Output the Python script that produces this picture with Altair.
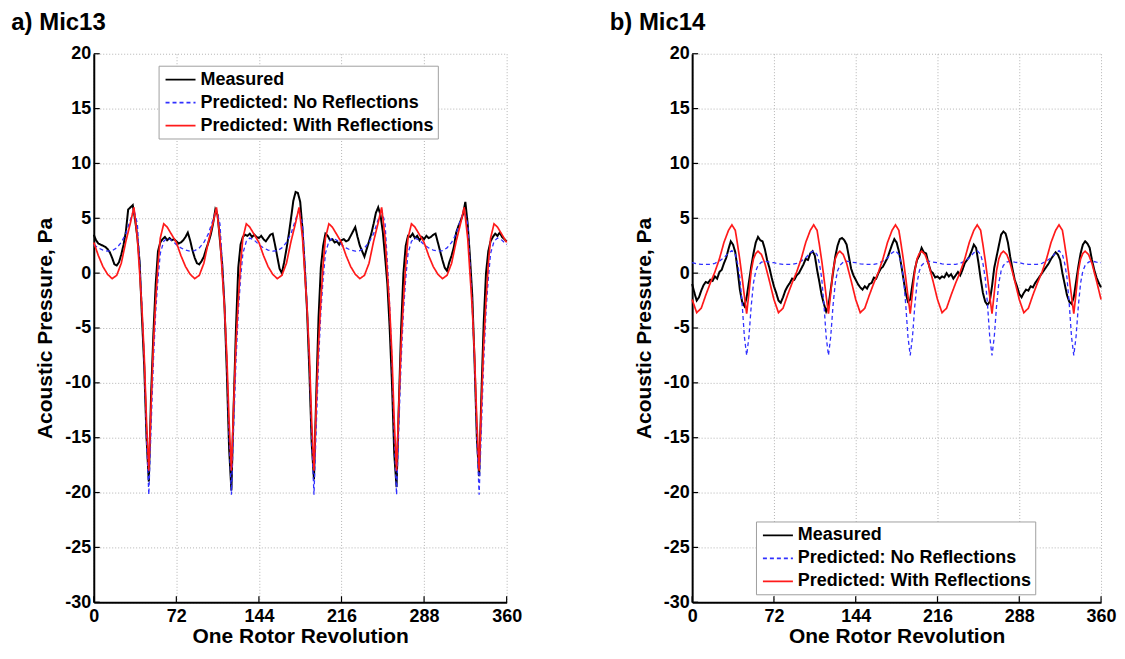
import altair as alt
import pandas as pd

SERIES = ["Measured", "Predicted: No Reflections", "Predicted: With Reflections"]
X_TICKS = [0, 72, 144, 216, 288, 360]
Y_TICKS = [-30, -25, -20, -15, -10, -5, 0, 5, 10, 15, 20]

# sample angles (degrees) of the measured traces
meas_deg = list(range(0, 361, 2))

# sample angles (degrees) of the predicted traces
pred_deg = [
    0, 4, 8, 12, 16, 20, 24, 28, 32, 35, 38, 40, 42, 44, 46, 48, 50, 52, 54, 56, 58, 61, 64, 68,
    72, 76, 80, 84, 88, 92, 96, 100, 104, 107, 110, 112, 114, 116, 118, 120, 122, 124, 126, 128, 130, 133, 136, 140,
    144, 148, 152, 156, 160, 164, 168, 172, 176, 179, 182, 184, 186, 188, 190, 192, 194, 196, 198, 200, 202, 205, 208, 212,
    216, 220, 224, 228, 232, 236, 240, 244, 248, 251, 254, 256, 258, 260, 262, 264, 266, 268, 270, 272, 274, 277, 280, 284,
    288, 292, 296, 300, 304, 308, 312, 316, 320, 323, 326, 328, 330, 332, 334, 336, 338, 340, 342, 344, 346, 349, 352, 356,
    360,
]

# ---------------- a) Mic13 ----------------
mic13_measured = [
    3.5, 3.0, 2.7, 2.6, 2.5, 2.4, 2.2, 1.9, 1.4, 0.8, 0.7, 1.0, 1.7, 2.6, 3.8, 5.8, 6.0, 6.2, 4.9, 3.3,
    1.0, -4.0, -8.5, -15.0, -19.0, -11.0, -5.5, -1.0, 2.0, 2.8, 3.1, 3.3, 3.0, 3.2, 3.0, 3.1,
    2.9, 2.7, 2.8, 3.0, 3.3, 3.7, 3.0, 2.1, 1.4, 0.9, 0.8, 1.1, 1.5, 2.2, 2.8, 3.5, 4.5, 5.8, 5.3, 3.0,
    0.8, -3.0, -9.0, -16.0, -19.8, -12.0, -5.0, 0.5, 2.6, 3.3, 3.5, 3.4, 3.6, 3.3, 3.5, 3.3,
    3.2, 3.4, 3.1, 2.9, 3.2, 3.5, 3.6, 2.6, 1.5, 0.4, 0.0, 1.0, 2.2, 3.5, 5.0, 6.6, 7.4, 7.3, 6.5, 4.0,
    0.5, -3.5, -9.0, -15.5, -18.8, -11.0, -4.0, 0.5, 2.5, 3.6, 3.4, 3.0, 3.1, 2.8, 2.9, 2.6,
    3.0, 3.1, 2.9, 3.0, 3.4, 3.8, 4.2, 3.3, 2.5, 2.0, 1.5, 2.2, 2.9, 3.6, 4.5, 5.5, 6.0, 5.3, 3.8, 1.5,
    -1.0, -5.0, -10.0, -16.5, -19.5, -12.0, -5.0, 0.0, 2.5, 3.4, 3.3, 3.6, 3.2, 3.4, 3.0, 3.3,
    3.1, 3.4, 3.2, 3.3, 3.5, 3.6, 2.8, 2.0, 1.2, 0.5, 0.2, 1.0, 1.6, 2.4, 3.7, 4.3, 4.8, 5.4, 6.5, 4.5,
    1.5, -2.0, -8.0, -15.0, -18.5, -11.0, -4.5, 0.0, 2.0, 2.9, 3.3, 3.6, 3.4, 3.7, 3.3, 3.1,
    2.9,
]
mic13_no_refl = [
    2.6, 2.3, 2.1, 2.0, 2.05, 2.3, 2.8, 3.6, 4.9, 5.8, 4.5, 1.0, -3.0, -8.0, -15.0, -20.2, -14.0, -8.0, -3.5, -0.5, 1.8, 2.9, 3.2, 3.0,
    2.6, 2.3, 2.1, 2.0, 2.05, 2.3, 2.8, 3.6, 4.9, 5.8, 4.5, 1.0, -3.0, -8.0, -15.0, -20.2, -14.0, -8.0, -3.5, -0.5, 1.8, 2.9, 3.2, 3.0,
    2.6, 2.3, 2.1, 2.0, 2.05, 2.3, 2.8, 3.6, 4.9, 5.8, 4.5, 1.0, -3.0, -8.0, -15.0, -20.2, -14.0, -8.0, -3.5, -0.5, 1.8, 2.9, 3.2, 3.0,
    2.6, 2.3, 2.1, 2.0, 2.05, 2.3, 2.8, 3.6, 4.9, 5.8, 4.5, 1.0, -3.0, -8.0, -15.0, -20.2, -14.0, -8.0, -3.5, -0.5, 1.8, 2.9, 3.2, 3.0,
    2.6, 2.3, 2.1, 2.0, 2.05, 2.3, 2.8, 3.6, 4.9, 5.8, 4.5, 1.0, -3.0, -8.0, -15.0, -20.2, -14.0, -8.0, -3.5, -0.5, 1.8, 2.9, 3.2, 3.0,
    2.6,
]
mic13_with_refl = [
    2.8, 1.6, 0.6, -0.1, -0.5, -0.2, 0.9, 2.9, 4.6, 6.0, 3.2, 0.0, -3.2, -7.5, -13.5, -18.0, -12.0, -6.5, -2.5, 0.8, 3.2, 4.5, 4.2, 3.5,
    2.8, 1.6, 0.6, -0.1, -0.5, -0.2, 0.9, 2.9, 4.6, 6.0, 3.2, 0.0, -3.2, -7.5, -13.5, -18.0, -12.0, -6.5, -2.5, 0.8, 3.2, 4.5, 4.2, 3.5,
    2.8, 1.6, 0.6, -0.1, -0.5, -0.2, 0.9, 2.9, 4.6, 6.0, 3.2, 0.0, -3.2, -7.5, -13.5, -18.0, -12.0, -6.5, -2.5, 0.8, 3.2, 4.5, 4.2, 3.5,
    2.8, 1.6, 0.6, -0.1, -0.5, -0.2, 0.9, 2.9, 4.6, 6.0, 3.2, 0.0, -3.2, -7.5, -13.5, -18.0, -12.0, -6.5, -2.5, 0.8, 3.2, 4.5, 4.2, 3.5,
    2.8, 1.6, 0.6, -0.1, -0.5, -0.2, 0.9, 2.9, 4.6, 6.0, 3.2, 0.0, -3.2, -7.5, -13.5, -18.0, -12.0, -6.5, -2.5, 0.8, 3.2, 4.5, 4.2, 3.5,
    2.8,
]

# ---------------- b) Mic14 ----------------
mic14_measured = [
    -1.0, -1.8, -2.5, -2.2, -1.6, -1.1, -0.8, -0.9, -0.6, -0.7, -0.3, -0.5, 0.1, 0.3, 0.9, 1.4, 2.2, 2.9, 2.6, 1.9,
    0.3, -1.5, -2.6, -3.0, -2.2, -0.8, 0.6, 1.8, 2.8, 3.3, 3.0, 2.9, 2.2, 1.2, 0.5, -0.4,
    -1.2, -1.8, -2.5, -2.7, -2.2, -1.6, -1.2, -0.9, -0.5, -0.6, -0.2, 0.0, 0.4, 0.8, 1.3, 1.2, 1.8, 2.0, 1.6, 0.3,
    -0.8, -2.0, -2.8, -3.5, -3.0, -1.5, 0.0, 1.5, 2.5, 3.1, 3.2, 3.0, 2.6, 1.5, 0.4, -0.2,
    -0.6, -1.0, -1.3, -1.5, -1.2, -1.4, -1.0, -0.9, -0.4, -0.5, 0.0, 0.4, 0.6, 1.0, 1.4, 2.0, 2.6, 3.1, 2.8, 2.0,
    0.8, -0.5, -1.8, -2.6, -2.4, -1.0, 0.3, 1.2, 1.6, 2.3, 1.9, 1.8, 0.9, 0.2, 0.0, -0.4,
    -0.3, -0.5, -0.3, -0.4, 0.0, -0.3, -0.1, -0.5, -0.2, 0.1, -0.2, 0.3, 0.9, 1.2, 1.5, 2.0, 2.6, 2.3, 1.0, -0.5,
    -1.8, -2.6, -2.9, -2.6, -1.2, 0.5, 1.5, 2.5, 3.5, 3.8, 3.6, 2.8, 1.5, 0.4, -0.6, -1.2,
    -1.9, -2.2, -1.8, -1.5, -1.6, -1.2, -1.3, -0.9, -0.6, -0.3, 0.0, 0.3, 0.6, 0.9, 1.3, 1.6, 1.9, 1.7, 1.2, 0.0,
    -1.0, -2.0, -2.6, -2.8, -2.2, -0.8, 0.6, 1.8, 2.6, 2.9, 2.7, 2.3, 1.2, 0.3, -0.4, -0.9,
    -1.3,
]
mic14_no_refl = [
    0.95, 0.85, 0.8, 0.8, 0.8, 0.9, 1.1, 1.4, 1.85, 2.05, 1.7, 0.9, -0.4, -2.8, -5.8, -7.5, -5.8, -3.0, -0.9, 0.2, 0.7, 1.0, 1.1, 1.0,
    0.95, 0.85, 0.8, 0.8, 0.8, 0.9, 1.1, 1.4, 1.85, 2.05, 1.7, 0.9, -0.4, -2.8, -5.8, -7.5, -5.8, -3.0, -0.9, 0.2, 0.7, 1.0, 1.1, 1.0,
    0.95, 0.85, 0.8, 0.8, 0.8, 0.9, 1.1, 1.4, 1.85, 2.05, 1.7, 0.9, -0.4, -2.8, -5.8, -7.5, -5.8, -3.0, -0.9, 0.2, 0.7, 1.0, 1.1, 1.0,
    0.95, 0.85, 0.8, 0.8, 0.8, 0.9, 1.1, 1.4, 1.85, 2.05, 1.7, 0.9, -0.4, -2.8, -5.8, -7.5, -5.8, -3.0, -0.9, 0.2, 0.7, 1.0, 1.1, 1.0,
    0.95, 0.85, 0.8, 0.8, 0.8, 0.9, 1.1, 1.4, 1.85, 2.05, 1.7, 0.9, -0.4, -2.8, -5.8, -7.5, -5.8, -3.0, -0.9, 0.2, 0.7, 1.0, 1.1, 1.0,
    0.95,
]
mic14_with_refl = [
    -2.4, -3.6, -3.2, -2.0, -0.9, 0.1, 1.3, 2.8, 3.9, 4.4, 3.9, 2.6, 1.2, -0.4, -2.1, -3.7, -1.8, 0.2, 1.3, 1.8, 2.0, 1.7, 0.9, -0.7,
    -2.4, -3.6, -3.2, -2.0, -0.9, 0.1, 1.3, 2.8, 3.9, 4.4, 3.9, 2.6, 1.2, -0.4, -2.1, -3.7, -1.8, 0.2, 1.3, 1.8, 2.0, 1.7, 0.9, -0.7,
    -2.4, -3.6, -3.2, -2.0, -0.9, 0.1, 1.3, 2.8, 3.9, 4.4, 3.9, 2.6, 1.2, -0.4, -2.1, -3.7, -1.8, 0.2, 1.3, 1.8, 2.0, 1.7, 0.9, -0.7,
    -2.4, -3.6, -3.2, -2.0, -0.9, 0.1, 1.3, 2.8, 3.9, 4.4, 3.9, 2.6, 1.2, -0.4, -2.1, -3.7, -1.8, 0.2, 1.3, 1.8, 2.0, 1.7, 0.9, -0.7,
    -2.4, -3.6, -3.2, -2.0, -0.9, 0.1, 1.3, 2.8, 3.9, 4.4, 3.9, 2.6, 1.2, -0.4, -2.1, -3.7, -1.8, 0.2, 1.3, 1.8, 2.0, 1.7, 0.9, -0.7,
    -2.4,
]

FONT = "Liberation Sans"
PLOT_H = 550


def panel(title, measured, no_refl, with_refl, width, leg_x, leg_y):
    df_m = pd.DataFrame({"deg": meas_deg, "p": measured, "series": SERIES[0]})
    df_b = pd.DataFrame({"deg": pred_deg, "p": no_refl, "series": SERIES[1]})
    df_r = pd.DataFrame({"deg": pred_deg, "p": with_refl, "series": SERIES[2]})
    df_xt = pd.DataFrame({"deg": X_TICKS})
    df_yt = pd.DataFrame({"p": Y_TICKS})
    df_t = pd.DataFrame({"t": [title]})

    x_enc = alt.X(
        "deg:Q",
        scale=alt.Scale(domain=[0, 360], nice=False, zero=False),
        axis=alt.Axis(values=X_TICKS, title="One Rotor Revolution", labelPadding=5,
                      titlePadding=0, labelFlush=False, labelExpr="'' + datum.value"),
    )
    y_enc = alt.Y(
        "p:Q",
        scale=alt.Scale(domain=[-30, 20], nice=False, zero=False),
        axis=alt.Axis(values=Y_TICKS, title="Acoustic Pressure, Pa", labelPadding=3,
                      titlePadding=9, labelExpr="'' + datum.value"),
    )
    leg = alt.Legend(
        title=None, orient="none", legendX=leg_x, legendY=leg_y,
        symbolType="M-1.67,0L1.67,0", symbolSize=324, symbolStrokeWidth=1.7,
        symbolOffset=8, labelOffset=10,
        labelFont=FONT, labelFontSize=18, labelFontWeight="bold", labelColor="#000",
        strokeColor="#a0a0a0", fillColor="#ffffff", padding=4, rowPadding=4,
        labelLimit=400,
    )
    color = alt.Color("series:N", scale=alt.Scale(domain=SERIES, range=["#000000", "#3030ff", "#ff1a1a"]), legend=leg)
    dash = alt.StrokeDash("series:N", scale=alt.Scale(domain=SERIES, range=[[1, 0], [4, 3], [1, 0]]), legend=leg)

    lm = alt.Chart(df_m).mark_line(strokeWidth=2.0).encode(x=x_enc, y=y_enc, color=color, strokeDash=dash)
    lb = alt.Chart(df_b).mark_line(strokeWidth=1.3).encode(x=x_enc, y=y_enc, color=color, strokeDash=dash)
    lr = alt.Chart(df_r).mark_line(strokeWidth=1.7).encode(x=x_enc, y=y_enc, color=color, strokeDash=dash)
    xt = alt.Chart(df_xt).mark_rule(color="#000", strokeWidth=1.2).encode(
        x=x_enc, y=alt.value(PLOT_H), y2=alt.value(PLOT_H - 6))
    yt = alt.Chart(df_yt).mark_rule(color="#000", strokeWidth=1.2).encode(
        y=y_enc, x=alt.value(0), x2=alt.value(6))
    tt = alt.Chart(df_t).mark_text(
        align="left", baseline="alphabetic", font=FONT, fontSize=24, fontWeight="bold", color="#000"
    ).encode(x=alt.value(-82.7), y=alt.value(-24), text="t:N")

    return alt.layer(lm, lb, lr, xt, yt, tt).properties(width=width, height=PLOT_H)


left = panel("a) Mic13", mic13_measured, mic13_no_refl, mic13_with_refl, 414, 65, 12)
right = panel("b) Mic14", mic14_measured, mic14_no_refl, mic14_with_refl, 410, 64, 469)

chart = (
    alt.hconcat(left, right, spacing=86)
    .resolve_scale(color="independent", strokeDash="independent")
    .resolve_legend(color="independent", strokeDash="independent")
    .properties(padding={"left": 2, "top": 1, "right": 0, "bottom": 0})
    .configure_view(stroke="transparent")
    .configure_axis(
        labelFont=FONT, labelFontSize=18, labelFontWeight="bold", labelColor="#000",
        titleFont=FONT, titleFontSize=21, titleFontWeight="bold", titleColor="#000",
        domainColor="#000", domainWidth=2, tickSize=0,
        gridColor="#b4b4b4", gridDash=[1, 2], gridWidth=1, gridOpacity=1,
    )
)

chart.save("out.html", embed_options={"renderer": "svg", "actions": False})
